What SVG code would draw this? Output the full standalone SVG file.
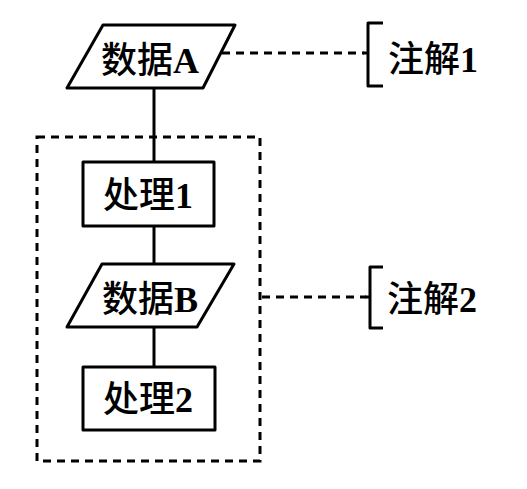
<svg xmlns="http://www.w3.org/2000/svg" width="527" height="489" viewBox="0 0 527 489">
<style>
.s{fill:none;stroke:#000;stroke-width:3;stroke-linejoin:round}
.d{fill:none;stroke:#000;stroke-width:3;stroke-dasharray:8 6}
.t{font-family:"Liberation Serif","Noto Sans CJK SC",serif;font-size:36px;font-weight:500;fill:#000;text-anchor:middle}
.n{font-family:"Liberation Serif","Noto Sans CJK SC",serif;font-size:36px;font-weight:500;fill:#000}
.b{font-weight:bold}
</style>
<rect width="527" height="489" fill="#fff"/>
<g id="connectors">
<line class="s" x1="154" y1="88" x2="154" y2="162"/>
<line class="s" x1="154" y1="226" x2="154" y2="264"/>
<line class="s" x1="154" y1="327" x2="154" y2="367"/>
<line class="d" x1="222" y1="53" x2="364" y2="53"/>
<line class="d" x1="262" y1="297" x2="366" y2="297"/>
</g>
<g id="group-box">
<rect class="d" x="37" y="137" width="223" height="324"/>
</g>
<g id="dataA">
<polygon class="s" points="103,25 235,25 203,88 67,88"/>
<text class="t" x="150" y="73">数据<tspan class="b">A</tspan></text>
</g>
<g id="proc1">
<rect class="s" x="83" y="162" width="131" height="64"/>
<text class="t" x="148" y="208">处理<tspan class="b">1</tspan></text>
</g>
<g id="dataB">
<polygon class="s" points="102,264 234,264 197,327 67,327"/>
<text class="t" x="150" y="312">数据<tspan class="b">B</tspan></text>
</g>
<g id="proc2">
<rect class="s" x="83" y="367" width="132" height="63"/>
<text class="t" x="148" y="412">处理<tspan class="b">2</tspan></text>
</g>
<g id="note1">
<path class="s" d="M383,23 H368 V86 H383 M368,53 H363"/>
<text class="n" x="388" y="72">注解<tspan class="b">1</tspan></text>
</g>
<g id="note2">
<path class="s" d="M383,267 H370 V328 H383 M370,297 H365"/>
<text class="n" x="387" y="312">注解<tspan class="b">2</tspan></text>
</g>
</svg>
